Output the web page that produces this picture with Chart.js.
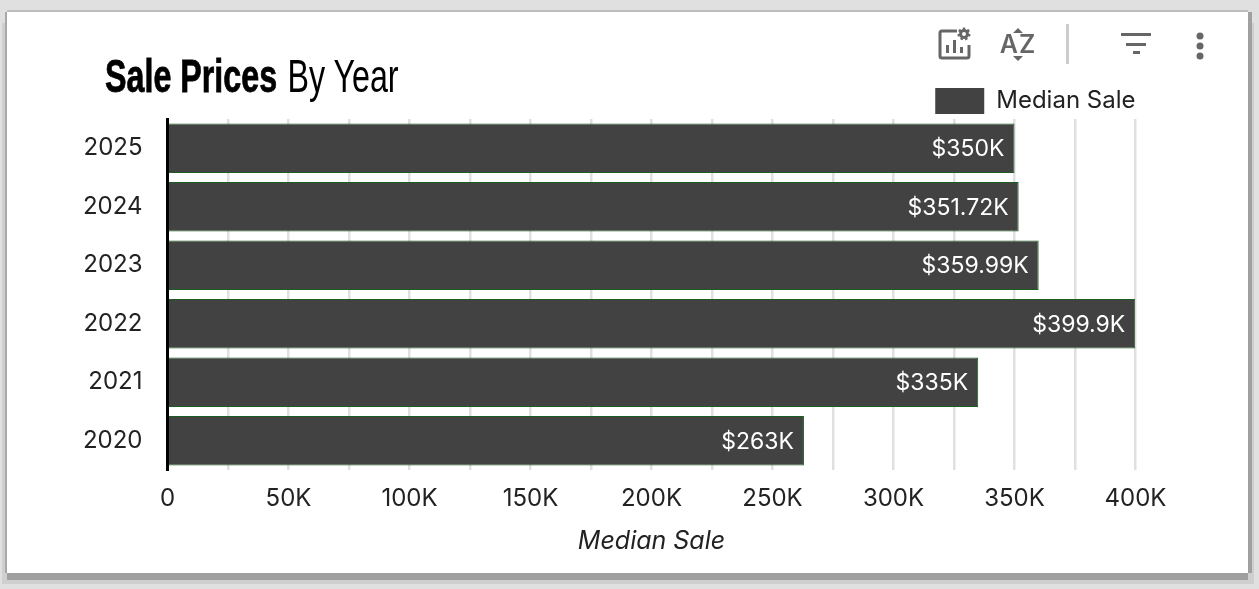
<!DOCTYPE html>
<html>
<head>
<meta charset="utf-8">
<script src="https://cdn.jsdelivr.net/npm/chart.js@4"></script>
<style>
  html, body { margin: 0; padding: 0; width: 1259px; height: 589px; overflow: hidden; background: #e0e0e0; }
  .card { position: absolute; left: 7px; top: 12px; width: 1241px; height: 561px; background: #fff;
    box-shadow: 0 -2px 0 0 #bdbdbd, -2px 0 0 0 #a8a8a8, 4px 0 0 0 #a0a0a0, 0 7px 0 0 #a0a0a0, 6px 11px 0 0 #cfcfcf, -5px 11px 0 0 #cfcfcf; }
  canvas { position: absolute; left: 0; top: 0; }
  .title { position: absolute; left: 105px; top: 49px; margin: 0; font: 400 47px/54px "Liberation Sans", sans-serif; color: #000; white-space: nowrap;
    transform: scaleX(0.686); transform-origin: left center; }
  .title b { font-weight: 700; margin-right: 2px; -webkit-text-stroke: 0.8px #000; }
  .icons { position: absolute; left: 0; top: 0; }
</style>
</head>
<body>
<div class="card"></div>
<div style="position:absolute;left:0;top:0;width:1259px;height:589px"><canvas id="chart"></canvas></div>
<h1 class="title"><b>Sale Prices</b> By Year</h1>
<svg class="icons" width="1259" height="589" fill="#666">
  <!-- chart settings icon -->
  <path d="M957 31 H942 a2 2 0 0 0 -2 2 V56 a2 2 0 0 0 2 2 H967 a2 2 0 0 0 2 -2 V45" fill="none" stroke="#666" stroke-width="3"/>
  <rect x="946" y="45" width="3" height="8"/><rect x="953" y="40" width="3" height="13"/><rect x="960" y="47" width="3" height="6"/>
  <circle cx="964" cy="34" r="3.5" fill="none" stroke="#666" stroke-width="3"/>
  <circle cx="964" cy="34" r="5.5" fill="none" stroke="#666" stroke-width="2" stroke-dasharray="2.5 2.3"/>
  <!-- sort icon -->
  <text x="1018" y="53" text-anchor="middle" font-family="Inter, sans-serif" font-size="25" font-weight="600" letter-spacing="1" fill="#666">AZ</text>
  <path d="M1013 33 L1018 28 L1023 33 Z M1013 56 L1018 61 L1023 56 Z"/>
  <rect x="1066" y="24" width="3" height="40" fill="#ccc"/>
  <!-- filter icon -->
  <rect x="1121" y="33" width="30" height="3"/><rect x="1126" y="43" width="20" height="3"/><rect x="1133" y="51" width="7" height="3"/>
  <!-- more icon -->
  <circle cx="1200" cy="36" r="3.5"/><circle cx="1200" cy="46" r="3.5"/><circle cx="1200" cy="56" r="3.5"/>
</svg>
<script>
const years = ['2025', '2024', '2023', '2022', '2021', '2020'];
const medianSale = [350000, 351720, 359990, 399900, 335000, 263000];
const seriesName = 'Median Sale';

const uiFont = 'Inter, "Noto Sans", sans-serif';

function formatK(v) {
  return v === 0 ? '0' : (v / 1000) + 'K';
}

// white value labels inside the bar end
const barLabels = {
  id: 'barLabels',
  afterDatasetsDraw(chart) {
    const ctx = chart.ctx;
    ctx.save();
    ctx.fillStyle = '#fff';
    ctx.font = '23px ' + uiFont;
    ctx.textAlign = 'right';
    ctx.textBaseline = 'middle';
    chart.getDatasetMeta(0).data.forEach((bar, i) => {
      ctx.fillText('$' + formatK(medianSale[i]), bar.x - 10, bar.y + 1);
    });
    ctx.restore();
  }
};

// the legend sits tight on the plot
const legendGap = {
  id: 'legendGap',
  beforeInit(chart) {
    const fit = chart.legend.fit;
    chart.legend.fit = function () {
      fit.call(this);
      this.height -= 5;
    };
  }
};

new Chart(document.getElementById('chart'), {
  type: 'bar',
  plugins: [barLabels, legendGap],
  data: {
    labels: years,
    datasets: [{
      label: seriesName,
      data: medianSale,
      backgroundColor: '#424242',
      borderColor: '#1b5e20',
      borderWidth: 1,
      barPercentage: 0.85,
      categoryPercentage: 1
    }]
  },
  options: {
    indexAxis: 'y',
    responsive: true,
    maintainAspectRatio: false,
    animation: false,
    layout: { padding: { top: 88, right: 123.5, bottom: 33, left: 0 } },
    plugins: {
      tooltip: { enabled: false },
      title: { display: false },
      legend: {
        position: 'top',
        align: 'end',
        labels: {
          boxWidth: 49,
          boxHeight: 26,
          padding: 0,
          color: '#222',
          font: { family: uiFont, size: 24 },
          generateLabels(chart) {
            return Chart.defaults.plugins.legend.labels.generateLabels(chart).map(item => ({ ...item, lineWidth: 0 }));
          }
        }
      }
    },
    scales: {
      x: {
        min: 0,
        max: 400000,
        afterFit(scale) { scale.height = 86; },
        grid: { color: '#e0e0e0', lineWidth: 2.5, drawTicks: false },
        border: { display: false },
        ticks: {
          stepSize: 25000,
          autoSkip: false,
          maxRotation: 0,
          padding: 14,
          color: '#222',
          font: { family: uiFont, size: 24 },
          callback: v => (v % 50000 === 0 ? formatK(v) : '')
        },
        title: {
          display: true,
          text: seriesName,
          color: '#222',
          padding: { top: 0, bottom: 0 },
          font: { family: uiFont, size: 25, style: 'italic' }
        }
      },
      y: {
        afterFit(scale) { scale.width = 167.5; },
        grid: { display: false },
        border: { display: true, color: '#000', width: 3 },
        ticks: {
          padding: 17,
          color: '#222',
          font: { family: uiFont, size: 24 }
        }
      }
    }
  }
});
</script>
</body>
</html>
